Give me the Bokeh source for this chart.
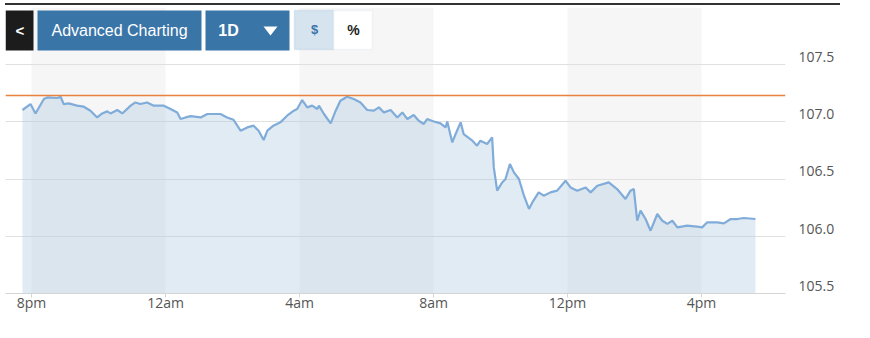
from bokeh.plotting import figure
from bokeh.layouts import column
from bokeh.models import (Range1d, LinearAxis, FixedTicker, BoxAnnotation, Span, Label,
                          PolyAnnotation, PrintfTickFormatter, Div)
from bokeh.embed import file_html
from bokeh.resources import INLINE

# time in hours (20 = 8pm of day 0, 24 = 12am, 40 = 4pm next day)
times = [19.73, 19.97, 20.12, 20.37, 20.47, 20.77, 20.87, 20.96, 21.11, 21.36,
         21.56, 21.76, 21.96, 22.11, 22.26, 22.36, 22.56, 22.71, 22.96, 23.10,
         23.25, 23.45, 23.65, 23.95, 24.15, 24.35, 24.45, 24.60, 24.75, 25.05,
         25.25, 25.64, 25.84, 26.03, 26.24, 26.44, 26.63, 26.78, 26.93, 27.04,
         27.22, 27.43, 27.63, 27.83, 27.93, 28.08, 28.23, 28.38, 28.53, 28.58,
         28.73, 28.93, 29.08, 29.22, 29.42, 29.62, 29.82, 30.02, 30.22, 30.37,
         30.52, 30.72, 30.92, 31.07, 31.22, 31.41, 31.56, 31.71, 31.81, 32.01,
         32.21, 32.36, 32.41, 32.56, 32.66, 32.81, 32.90, 33.16, 33.30, 33.40,
         33.60, 33.75, 33.80, 33.90, 34.05, 34.15, 34.28, 34.40, 34.55, 34.70,
         34.85, 34.95, 35.14, 35.29, 35.49, 35.69, 35.94, 36.09, 36.29, 36.54,
         36.69, 36.89, 37.23, 37.48, 37.73, 37.88, 37.98, 38.08, 38.18, 38.33,
         38.48, 38.68, 38.83, 38.98, 39.13, 39.28, 39.57, 39.87, 40.02, 40.17,
         40.47, 40.67, 40.87, 41.07, 41.26, 41.61]
prices = [107.104, 107.156, 107.074, 107.200, 107.214, 107.209, 107.220, 107.156, 107.162, 107.142,
          107.133, 107.098, 107.039, 107.074, 107.092, 107.074, 107.104, 107.074, 107.142, 107.170,
          107.156, 107.170, 107.142, 107.142, 107.113, 107.083, 107.025, 107.039, 107.050, 107.039,
          107.069, 107.069, 107.039, 107.019, 106.923, 106.952, 106.967, 106.923, 106.842, 106.923,
          106.967, 106.996, 107.054, 107.098, 107.113, 107.191, 107.127, 107.142, 107.113, 107.142,
          107.069, 106.987, 107.098, 107.185, 107.220, 107.200, 107.170, 107.104, 107.098, 107.127,
          107.083, 107.104, 107.039, 107.083, 107.025, 107.060, 107.010, 106.982, 107.025, 107.004,
          106.987, 106.952, 107.004, 106.821, 106.894, 106.996, 106.894, 106.836, 106.792, 106.836,
          106.807, 106.865, 106.602, 106.399, 106.471, 106.501, 106.632, 106.559, 106.501, 106.355,
          106.239, 106.296, 106.384, 106.355, 106.384, 106.399, 106.486, 106.427, 106.399, 106.427,
          106.384, 106.442, 106.471, 106.413, 106.326, 106.399, 106.413, 106.136, 106.224, 106.151,
          106.049, 106.195, 106.136, 106.108, 106.136, 106.078, 106.093, 106.084, 106.078, 106.122,
          106.122, 106.113, 106.151, 106.151, 106.160, 106.151]
prev_close = 107.23

x_ticks = [20, 24, 28, 32, 36, 40]
x_tick_labels = ["8pm", "12am", "4am", "8am", "12pm", "4pm"]
y_ticks = [105.5, 106.0, 106.5, 107.0, 107.5]
band_starts = [20, 28, 36]
band_ends = [24, 32, 40]

X_MIN, X_MAX = 19.224, 42.507
Y_MIN, Y_MAX = 105.5, 108.0
LABEL_SHIFT = 0.068  # y tick labels sit slightly above their gridlines

rule = Div(text="", width=835, height=2, margin=(3, 0, 0, 5),
           styles={"background-color": "#333333"})

p = figure(width=870, height=333, output_backend="svg", toolbar_location=None,
           x_range=Range1d(X_MIN, X_MAX), y_range=Range1d(Y_MIN, Y_MAX),
           y_axis_location="right",
           min_border_left=5, min_border_right=85, min_border_top=2, min_border_bottom=45,
           background_fill_color="white", border_fill_color="white", outline_line_color=None)

p.yaxis.visible = False
p.xgrid.visible = False
p.ygrid.ticker = FixedTicker(ticks=y_ticks)
p.ygrid.grid_line_color = "#e0e0e0"
p.ygrid.grid_line_width = 1

p.extra_y_ranges = {"lab": Range1d(Y_MIN - LABEL_SHIFT, Y_MAX - LABEL_SHIFT)}
yax = LinearAxis(y_range_name="lab", ticker=FixedTicker(ticks=y_ticks),
                 formatter=PrintfTickFormatter(format="%.1f"),
                 axis_line_color=None, major_tick_line_color=None, minor_tick_line_color=None,
                 major_label_standoff=7, major_label_text_font="Open Sans",
                 major_label_text_font_size="14px", major_label_text_color="#555555")
p.add_layout(yax, "right")

xa = p.xaxis[0]
xa.ticker = FixedTicker(ticks=x_ticks)
xa.major_label_overrides = dict(zip(x_ticks, x_tick_labels))
xa.axis_line_color = "#d5d5d5"
xa.major_tick_line_color = "#d5d5d5"
xa.major_tick_out = 4
xa.major_tick_in = 0
xa.minor_tick_line_color = None
xa.major_label_standoff = -5
xa.major_label_text_font = "Open Sans"
xa.major_label_text_font_size = "14px"
xa.major_label_text_color = "#555555"

for s, e in zip(band_starts, band_ends):
    p.add_layout(BoxAnnotation(left=s, right=e, fill_color="#f6f6f6", fill_alpha=1.0,
                               line_color=None, level="image"))

p.varea(x=times, y1=Y_MIN, y2=prices, fill_color="#a8c5de", fill_alpha=0.35)
p.line(times, prices, line_color="#80acda", line_width=2.2)
p.add_layout(Span(location=prev_close, dimension="width", line_color="#e8823c", line_width=1.5))

# --- toolbar buttons (canvas pixel units of the figure) ---
def box(l, r, t, b, fill, border=None, bw=1):
    p.add_layout(BoxAnnotation(left=l, right=r, top=t, bottom=b,
                               left_units="canvas", right_units="canvas",
                               top_units="canvas", bottom_units="canvas",
                               fill_color=fill, fill_alpha=1.0,
                               line_color=border, line_width=bw, level="overlay"))

def label(x, y, txt, size, color, bold=False, font="Liberation Sans"):
    p.add_layout(Label(x=x, y=y, x_units="canvas", y_units="canvas", text=txt,
                       text_align="center", text_baseline="middle",
                       text_font=font, text_font_size=size, text_color=color,
                       text_font_style="bold" if bold else "normal", level="overlay"))

OFF = 5  # figure starts 5px below the page top (under the rule)
box(5, 33, 10 - OFF, 50 - OFF, "#1c1c1c")
box(37, 201, 10 - OFF, 50 - OFF, "#3a75a8")
box(205, 289, 10 - OFF, 50 - OFF, "#3a75a8")
box(294, 333, 10 - OFF, 49 - OFF, "#d6e4f0", "#a9c3da", 1.5)
box(333, 372, 10 - OFF, 49 - OFF, "#ffffff", "#d3dfea", 1.5)

label(19.5, 30 - OFF, "<", "15px", "white", bold=True)
label(119, 30 - OFF, "Advanced Charting", "16px", "white")
label(228, 30 - OFF, "1D", "16px", "white", bold=True)
p.add_layout(PolyAnnotation(xs=[263, 277, 270], ys=[26 - OFF, 26 - OFF, 35 - OFF],
                            xs_units="canvas", ys_units="canvas",
                            fill_color="white", fill_alpha=1.0, line_color=None, level="overlay"))
label(314, 29 - OFF, "$", "13px", "#3a75a8", bold=True)
label(353, 29 - OFF, "%", "14px", "#222222", bold=True)

layout = column(rule, p, spacing=0)
open("out.html", "w").write(file_html(layout, INLINE))
